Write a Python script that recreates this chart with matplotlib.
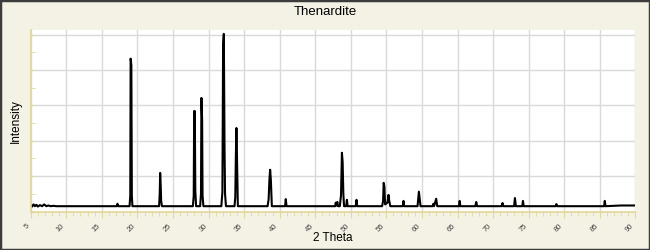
import numpy as np
import matplotlib
matplotlib.use('Agg')
from matplotlib import pyplot as plt
from matplotlib.patches import Rectangle
from matplotlib.ticker import MultipleLocator

plt.rcParams['font.family'] = ['Liberation Sans', 'DejaVu Sans']

# XRD pattern points (2 theta, intensity)
two_theta = [5.0, 5.2, 5.4, 5.6, 5.8, 6.0, 6.3, 6.6, 6.9, 7.2, 7.5, 7.8, 8.2, 8.6, 9.5,
             12.0, 14.5,
             17.1, 17.2, 17.3,
             18.9, 19.0, 19.05, 19.15, 19.22, 19.3,
             21.0,
             23.05, 23.14, 23.2, 23.28, 23.34, 23.45,
             25.5,
             27.8, 27.92, 27.98, 28.07, 28.14, 28.25,
             28.82, 28.94, 29.0, 29.1, 29.16, 29.28,
             31.8, 31.95, 32.05, 32.15, 32.25, 32.32, 32.45,
             33.65, 33.76, 33.84, 33.92, 34.0, 34.12,
             36.0,
             38.3, 38.45, 38.56, 38.66, 38.76, 38.9,
             40.76, 40.86, 40.96,
             44.0,
             47.8, 47.88, 48.0, 48.1, 48.2, 48.45, 48.62, 48.75, 48.85, 48.95, 49.05, 49.35, 49.45, 49.55,
             50.7, 50.8, 50.9,
             54.4, 54.54, 54.62, 54.72, 54.82, 55.15, 55.3, 55.4, 55.55,
             57.3, 57.4, 57.5,
             59.38, 59.5, 59.57, 59.66, 59.8,
             61.5, 61.6, 61.7, 62.0, 62.15,
             65.2, 65.3, 65.4,
             67.5, 67.63, 67.75,
             71.2, 71.33, 71.45,
             72.95, 73.07, 73.2, 74.1, 74.2, 74.3,
             78.8, 78.9, 79.0,
             85.6, 85.7, 85.8,
             88.0, 90.0]
intensity = [0.18, 0.14, 0.2, 0.15, 0.19, 0.14, 0.18, 0.15, 0.2, 0.15, 0.17, 0.15, 0.16, 0.15, 0.15,
             0.15, 0.15,
             0.15, 0.22, 0.15,
             0.15, 0.45, 4.32, 4.14, 0.45, 0.15,
             0.15,
             0.15, 0.5, 1.09, 0.72, 0.3, 0.15,
             0.15,
             0.15, 0.45, 2.84, 2.84, 0.6, 0.15,
             0.15, 0.5, 3.21, 2.59, 0.45, 0.15,
             0.15, 0.55, 4.71, 5.02, 1.8, 0.5, 0.15,
             0.15, 0.4, 1.55, 2.36, 1.55, 0.15,
             0.15,
             0.15, 0.35, 0.9, 1.18, 0.9, 0.15,
             0.15, 0.35, 0.15,
             0.15,
             0.15, 0.25, 0.17, 0.27, 0.15, 0.15, 0.45, 1.66, 1.4, 0.5, 0.15, 0.15, 0.33, 0.15,
             0.15, 0.33, 0.15,
             0.15, 0.3, 0.81, 0.7, 0.2, 0.25, 0.47, 0.3, 0.15,
             0.15, 0.3, 0.15,
             0.15, 0.4, 0.56, 0.4, 0.15,
             0.15, 0.22, 0.15, 0.36, 0.15,
             0.15, 0.3, 0.15,
             0.15, 0.27, 0.15,
             0.15, 0.24, 0.15,
             0.15, 0.38, 0.15, 0.15, 0.3, 0.15,
             0.15, 0.21, 0.15,
             0.15, 0.3, 0.15,
             0.17, 0.17]

bg = '#f4f2e5'
axis_col = '#e2d79a'

fig = plt.figure(figsize=(6.5, 2.5), dpi=100, facecolor=bg)
ax = fig.add_axes([0.0472, 0.154, 0.9303, 0.726])
ax.set_facecolor('white')

ax.plot(two_theta, intensity, color='black', lw=1.5)

ax.set_xlim(5, 90)
ax.set_ylim(0, 5.13)
ax.xaxis.set_major_locator(MultipleLocator(5))
ax.xaxis.set_minor_locator(MultipleLocator(1))
ax.yaxis.set_major_locator(MultipleLocator(1))
ax.yaxis.set_minor_locator(MultipleLocator(0.5))
ax.grid(True, which='major', color='#d9d9d9', lw=1)
ax.set_axisbelow(True)

for s in ['top', 'right']:
    ax.spines[s].set_visible(False)
for s in ['left', 'bottom']:
    ax.spines[s].set_color(axis_col)
    ax.spines[s].set_linewidth(1.2)

ax.tick_params(axis='x', which='both', direction='out', color=axis_col,
               labelsize=5.5, labelcolor='#404040', pad=4)
ax.tick_params(axis='x', which='major', length=4)
ax.tick_params(axis='x', which='minor', length=3)
ax.tick_params(axis='y', which='both', direction='in', color=axis_col,
               labelleft=False, length=3)
for lab in ax.get_xticklabels():
    lab.set_rotation(45)
    lab.set_ha('right')

ax.set_xlabel('2 Theta', fontsize=8.5, labelpad=-1)
ax.set_ylabel('Intensity', fontsize=8.5, labelpad=6)
fig.text(0.5, 0.952, 'Thenardite', ha='center', va='center', fontsize=9.5)

# outer frame
fig.patches.append(Rectangle((0, 0), 1, 1, transform=fig.transFigure,
                             fill=False, edgecolor='#3c3c3c', lw=2.5))

fig.savefig('out.png', dpi=100, facecolor=bg)
